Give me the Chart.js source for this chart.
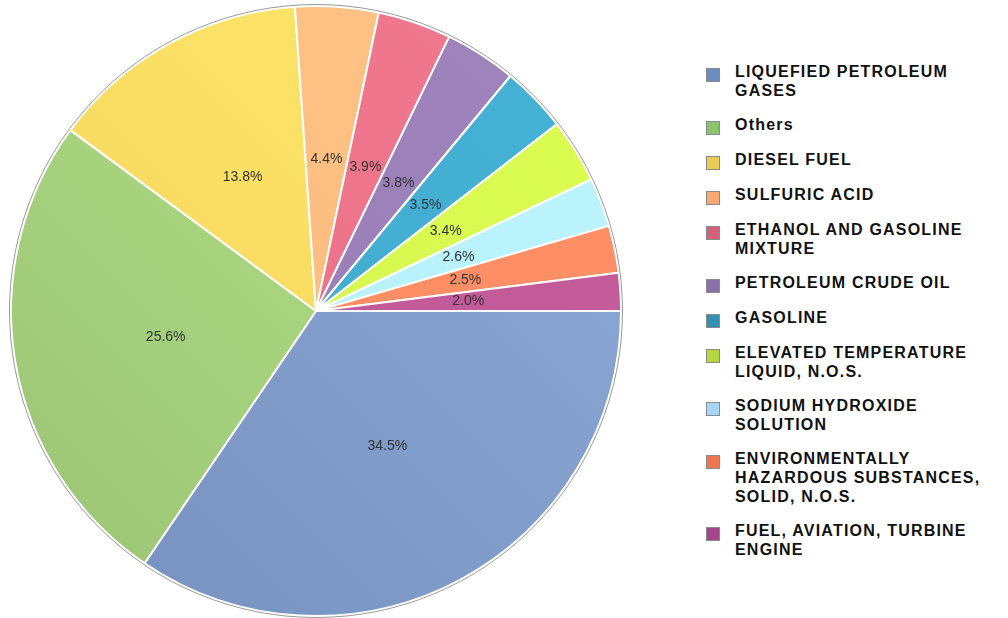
<!DOCTYPE html>
<html>
<head>
<meta charset="utf-8">
<script src="https://cdn.jsdelivr.net/npm/chart.js@4.4.0/dist/chart.umd.min.js"></script>
<style>
  body { margin: 0; background: #fff; width: 1008px; height: 618px; overflow: hidden; position: relative;
         font-family: "Liberation Sans", Arial, sans-serif; }
  #wrap { position: absolute; left: 0; top: 0; width: 632px; height: 618px; }
  #legend { position: absolute; left: 706px; top: 62px; width: 300px; }
  .item { display: flex; margin-bottom: 15px; }
  .box { width: 14px; height: 14px; box-sizing: border-box; border: 1px solid #8a8a8a; margin-top: 6px; flex: none; }
  .txt { margin-left: 15px; width: 268px; font-weight: bold; font-size: 16px; line-height: 19px;
         letter-spacing: 1.2px; color: #111; }
</style>
</head>
<body>
<div id="wrap"><canvas id="myChart"></canvas></div>
<div id="legend"></div>
<script>
const categories = ["LIQUEFIED PETROLEUM GASES", "Others", "DIESEL FUEL", "SULFURIC ACID",
  "ETHANOL AND GASOLINE MIXTURE", "PETROLEUM CRUDE OIL", "GASOLINE", "ELEVATED TEMPERATURE LIQUID, N.O.S.",
  "SODIUM HYDROXIDE SOLUTION", "ENVIRONMENTALLY HAZARDOUS SUBSTANCES, SOLID, N.O.S.", "FUEL, AVIATION, TURBINE ENGINE"]
const shares = [34.5, 25.6, 13.8, 4.4, 3.9, 3.8, 3.5, 3.4, 2.6, 2.5, 2.0]

// slice shading: dark at bottom-left, light at top-right
const lightCols = ["#8eabd9", "#b6e58c", "#ffea6c", "#ffc488", "#f27a90", "#a084bc", "#45b2d6", "#dcfd50", "#bdf5fd", "#ff9068", "#c55c9c"]
const darkCols = ["#7590bd", "#9ac373", "#f3d15a", "#fbb878", "#e66c82", "#967ab4", "#3fa8cc", "#d2f252", "#b2eefb", "#fd8a5e", "#bf5896"]
const boxCols = ["#6d8cc2", "#8dc56e", "#e9cb55", "#f7a873", "#d5607a", "#8a6fa8", "#3591b1", "#b5d742", "#a6d5f7", "#ef7650", "#a2478a"]

const sliceLabels = {
  id: 'sliceLabels',
  afterDatasetsDraw(chart) {
    const ctx = chart.ctx
    const meta = chart.getDatasetMeta(0)
    const first = meta.data[0]
    ctx.save()
    // thin grey rim round the pie
    ctx.beginPath()
    ctx.arc(first.x, first.y, first.outerRadius + 1.5, 0, Math.PI * 2)
    ctx.strokeStyle = '#9a9a9a'
    ctx.lineWidth = 1
    ctx.stroke()

    ctx.font = '14px "Liberation Sans", Arial, sans-serif'
    ctx.fillStyle = '#333'
    ctx.textAlign = 'center'
    ctx.textBaseline = 'middle'
    meta.data.forEach((arc, i) => {
      const p = arc.getCenterPoint()
      ctx.fillText(shares[i].toFixed(1) + '%', p.x, p.y)
    })
    ctx.restore()
  }
}

const ctx = document.getElementById('myChart')
const myChart = new Chart(ctx, {
  type: 'pie',
  data: {
    labels: categories,
    datasets: [{
      data: shares,
      backgroundColor: function(c) {
        const area = c.chart.chartArea
        if (!area) return lightCols[c.dataIndex]
        const g = c.chart.ctx.createLinearGradient(area.left, area.bottom, area.right, area.top)
        g.addColorStop(0, darkCols[c.dataIndex])
        g.addColorStop(1, lightCols[c.dataIndex])
        return g
      },
      borderColor: '#fff',
      borderWidth: 2,
      hoverBorderWidth: 2,
      hoverOffset: 0
    }]
  },
  options: {
    responsive: true,
    maintainAspectRatio: false,
    animation: false,
    rotation: 90,
    layout: { padding: { top: 5, bottom: 1, left: 10, right: 10 } },
    plugins: {
      legend: { display: false },
      tooltip: { enabled: false }
    }
  },
  plugins: [sliceLabels]
})

const legend = document.getElementById('legend')
categories.forEach((name, i) => {
  const item = document.createElement('div')
  item.className = 'item'
  item.innerHTML = `<div class="box" style="background:${boxCols[i]}"></div><div class="txt">${name}</div>`
  legend.appendChild(item)
})
</script>
</body>
</html>
